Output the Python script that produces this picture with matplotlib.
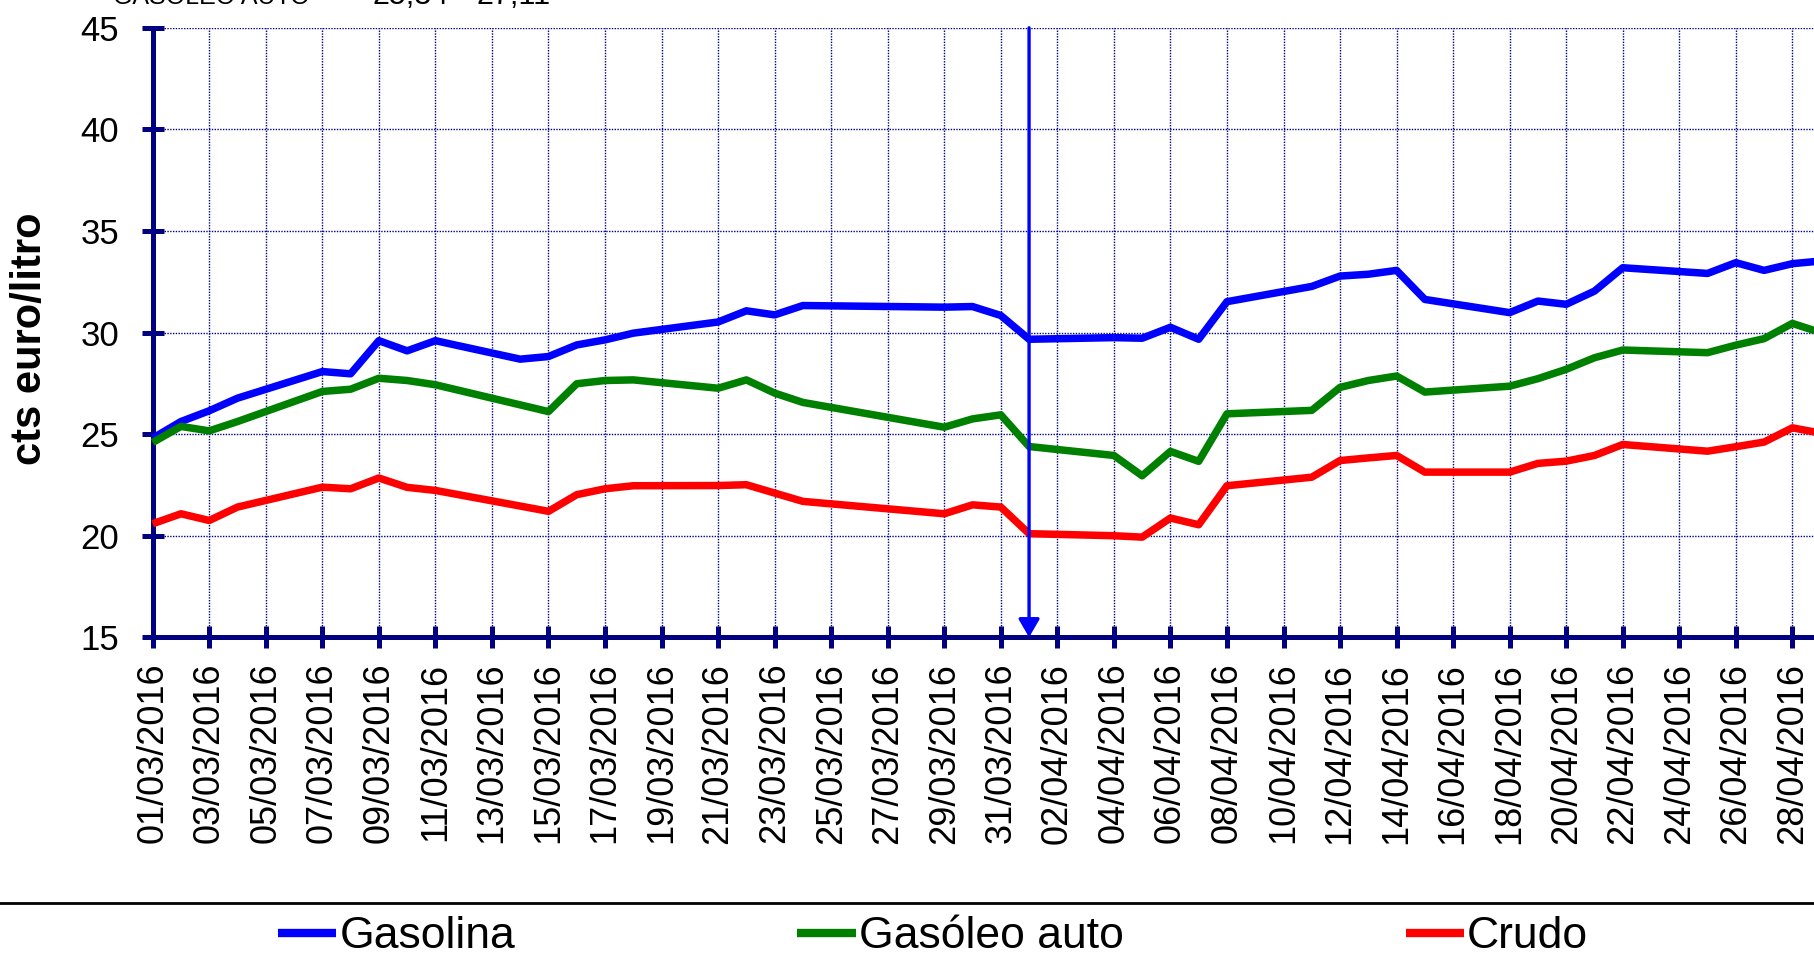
import matplotlib
matplotlib.use("Agg")
import matplotlib.pyplot as plt
import matplotlib.dates as mdates
from matplotlib.lines import Line2D
import pandas as pd

plt.rcParams['font.family'] = ['Liberation Sans', 'DejaVu Sans']

# ---------------- data ----------------
dates = ["01/03/2016", "02/03/2016", "03/03/2016", "04/03/2016",
         "07/03/2016", "08/03/2016", "09/03/2016", "10/03/2016", "11/03/2016",
         "14/03/2016", "15/03/2016", "16/03/2016", "17/03/2016", "18/03/2016",
         "21/03/2016", "22/03/2016", "23/03/2016", "24/03/2016",
         "29/03/2016", "30/03/2016", "31/03/2016", "01/04/2016",
         "04/04/2016", "05/04/2016", "06/04/2016", "07/04/2016", "08/04/2016",
         "11/04/2016", "12/04/2016", "13/04/2016", "14/04/2016", "15/04/2016",
         "18/04/2016", "19/04/2016", "20/04/2016", "21/04/2016", "22/04/2016",
         "25/04/2016", "26/04/2016", "27/04/2016", "28/04/2016", "29/04/2016"]

gasolina = [24.80, 25.62, 26.15, 26.77,
            28.08, 27.97, 29.60, 29.10, 29.60,
            28.69, 28.82, 29.39, 29.64, 29.97,
            30.52, 31.07, 30.87, 31.33,
            31.25, 31.28, 30.84, 29.67,
            29.75, 29.72, 30.26, 29.67, 31.52,
            32.27, 32.78, 32.87, 33.06, 31.63,
            30.98, 31.55, 31.39, 32.04, 33.19,
            32.91, 33.44, 33.06, 33.39, 33.52]

gasoleo = [24.59, 25.38, 25.16, 25.62,
           27.10, 27.21, 27.75, 27.64, 27.43,
           26.44, 26.11, 27.48, 27.64, 27.67,
           27.26, 27.67, 27.02, 26.56,
           25.34, 25.75, 25.95, 24.39,
           23.95, 22.95, 24.15, 23.66, 26.00,
           26.17, 27.30, 27.64, 27.86, 27.07,
           27.36, 27.73, 28.19, 28.76, 29.14,
           29.01, 29.38, 29.70, 30.45, 30.00]

crudo = [20.59, 21.08, 20.75, 21.41,
         22.39, 22.31, 22.84, 22.38, 22.23,
         21.46, 21.20, 22.02, 22.31, 22.46,
         22.47, 22.51, 22.10, 21.69,
         21.08, 21.52, 21.41, 20.10,
         20.00, 19.93, 20.87, 20.54, 22.46,
         22.88, 23.70, 23.83, 23.95, 23.13,
         23.13, 23.56, 23.67, 23.95, 24.49,
         24.16, 24.38, 24.61, 25.31, 25.05]

series_names = ["Gasolina", "Gasóleo auto", "Crudo"]
series_colors = ["#0000FF", "#008000", "#FF0000"]

x_start = "01/03/2016"
x_end = "30/04/2016"
arrow_date = "01/04/2016"
y_label = "cts euro/litro"
y_ticks = [15, 20, 25, 30, 35, 40, 45]
top_texts = ["GASÓLEO AUTO", "25,34", "27,11"]

# ---------------- figure ----------------
W, H = 1814, 959
fig = plt.figure(figsize=(W / 100, H / 100), dpi=100)
fig.patch.set_facecolor("white")

ax_left, ax_right_px = 152.7, 152.7 + 60 * 28.27
ax_top, ax_bot = 27.8, 637.3
ax = fig.add_axes([ax_left / W, 1 - ax_bot / H,
                   (ax_right_px - ax_left) / W, (ax_bot - ax_top) / H])

x = pd.to_datetime(dates, format="%d/%m/%Y")
navy = "#000080"

handles = []
for vals, name, col in zip([gasolina, gasoleo, crudo], series_names, series_colors):
    ln, = ax.plot(x, vals, color=col, lw=5.4, label=name, zorder=4,
                  solid_joinstyle="round", solid_capstyle="butt", clip_on=False)
    handles.append(ln)

xs = pd.to_datetime(x_start, format="%d/%m/%Y")
xe = pd.to_datetime(x_end, format="%d/%m/%Y")
ax.set_xlim(xs, xe)
ax.set_ylim(15, 45)

ticks = pd.date_range(xs, xe, freq="2D")
ax.set_xticks(ticks)
ax.xaxis.set_major_formatter(mdates.DateFormatter("%d/%m/%Y"))
ax.set_yticks(y_ticks)

for s in ["top", "right"]:
    ax.spines[s].set_visible(False)
for s in ["left", "bottom"]:
    ax.spines[s].set_color(navy)
    ax.spines[s].set_linewidth(3.6)
    ax.spines[s].set_zorder(3)

ax.grid(True, color=navy, linestyle=(0, (1, 1)), linewidth=1.0, zorder=1)
ax.set_axisbelow(True)

ax.tick_params(axis="both", direction="inout", length=15.8, width=3.6, color=navy)
ax.tick_params(axis="y", labelsize=25, pad=16.4)
ax.tick_params(axis="x", labelsize=26, pad=10.4, labelrotation=90)
for lab in ax.get_xticklabels():
    lab.set_ha("center")
    lab.set_va("top")

# arrow
ad = pd.to_datetime(arrow_date, format="%d/%m/%Y")
ax.annotate("", xy=(ad, 15), xytext=(ad, 45),
            arrowprops=dict(arrowstyle="-|>,head_length=0.55,head_width=0.32",
                            mutation_scale=20, color="#0000FF", lw=2.4,
                            shrinkA=0, shrinkB=0), zorder=5)

# y label
fig.text(30.5 / W, 1 - 339 / H, y_label, rotation=90, fontsize=30,
         fontweight="bold", ha="center", va="center")

# top (cut) texts
for txt, px, fs in zip(top_texts, [113, 372, 477], [18, 22, 22]):
    fig.text(px / W, 1 - 4 / H, txt, fontsize=fs, ha="left", va="baseline")

# separator line
fig.add_artist(Line2D([0, 1], [1 - 903.3 / H] * 2, transform=fig.transFigure,
                      color="black", lw=2.0))

# legend
leg = fig.legend(handles, series_names, ncol=3, loc="center left",
                 bbox_to_anchor=(278 / W, 22 / H), frameon=False, fontsize=32,
                 handlelength=1.31, handletextpad=0.07, columnspacing=6.35,
                 borderpad=0, borderaxespad=0)
for lh in leg.legend_handles:
    lh.set_linewidth(6)

fig.savefig("out.png", dpi=100)
